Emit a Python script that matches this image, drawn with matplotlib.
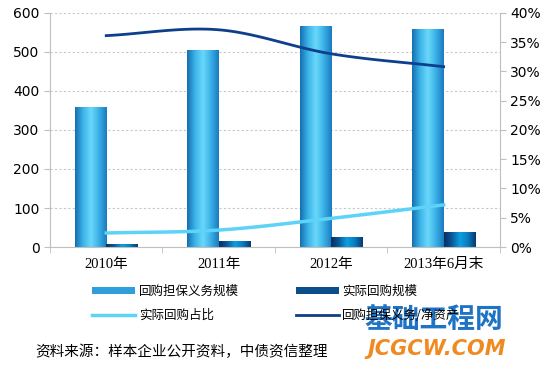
import numpy as np
import matplotlib
matplotlib.use("Agg")
import matplotlib.pyplot as plt
from matplotlib.patches import Patch
from matplotlib.lines import Line2D
from matplotlib.colors import LinearSegmentedColormap

plt.rcParams['font.family'] = ['DejaVu Sans', 'Noto Sans CJK SC']

categories = ['2010年', '2011年', '2012年', '2013年6月末']
guarantee_scale = [358, 506, 566, 558]        # 回购担保义务规模
actual_scale = [7, 15, 25, 39]                # 实际回购规模
actual_ratio = [2.4, 2.9, 4.9, 7.2]           # 实际回购占比 (%)
guarantee_ratio = [36.1, 37.1, 33.0, 30.8]    # 回购担保义务/净资产 (%)
legend_labels = ['回购担保义务规模', '实际回购规模', '实际回购占比', '回购担保义务/净资产']
source_text = '资料来源：样本企业公开资料，中债资信整理'

cmap_big = LinearSegmentedColormap.from_list('big', ['#1670b0', '#3cb4ea', '#6ad8fa', '#3ab0e6', '#1a7cc0'])
cmap_small = LinearSegmentedColormap.from_list('small', ['#062f5e', '#0a5a9a', '#0aa0e0', '#0a7cc0', '#063a70'])

def smooth(xs, ys, n=40, t=0.5):
    xs = np.asarray(xs, float); ys = np.asarray(ys, float)
    px = np.concatenate([[2*xs[0]-xs[1]], xs, [2*xs[-1]-xs[-2]]])
    py = np.concatenate([[2*ys[0]-ys[1]], ys, [2*ys[-1]-ys[-2]]])
    ox, oy = [], []
    for i in range(1, len(px)-2):
        p0, p1, p2, p3 = [np.array([px[j], py[j]]) for j in (i-1, i, i+1, i+2)]
        m1 = t*(p2-p0); m2 = t*(p3-p1)
        s = np.linspace(0, 1, n)
        h00 = 2*s**3-3*s**2+1; h10 = s**3-2*s**2+s; h01 = -2*s**3+3*s**2; h11 = s**3-s**2
        pts = np.outer(h00, p1)+np.outer(h10, m1)+np.outer(h01, p2)+np.outer(h11, m2)
        ox.extend(pts[:, 0]); oy.extend(pts[:, 1])
    return np.array(ox), np.array(oy)

fig = plt.figure(figsize=(5.5, 3.66), dpi=100)
ax = fig.add_axes([0.0909, 0.325, 0.818, 0.64])
x = np.arange(len(categories))
w = 0.28

grad = np.linspace(0, 1, 64).reshape(1, -1)
bars1 = ax.bar(x - w/2, guarantee_scale, width=w, color='none', zorder=2)
bars2 = ax.bar(x + w/2, actual_scale, width=w, color='none', zorder=2)
for bars, cm in ((bars1, cmap_big), (bars2, cmap_small)):
    for b in bars:
        x0, y0 = b.get_x(), b.get_y()
        im = ax.imshow(grad, cmap=cm, aspect='auto', extent=[x0, x0 + b.get_width(), y0, y0 + b.get_height()], zorder=2)
        im.set_clip_path(b)

ax.set_xlim(-0.5, len(categories) - 0.5)
ax.set_ylim(0, 600)
ax.set_yticks(range(0, 601, 100))
ax.set_xticks(x)
ax.set_xticklabels(categories, family=['Liberation Serif', 'Noto Sans CJK SC'], fontsize=10.5)
ax.set_xticks(np.arange(-0.5, len(categories), 1), minor=True)
ax.tick_params(axis='x', which='major', length=0, pad=8)
ax.tick_params(axis='x', which='minor', length=4, color='#bfbfbf')
ax.tick_params(axis='y', length=4, color='#bfbfbf', labelsize=10)
ax.yaxis.grid(True, linestyle=(0, (2, 2)), color='#c8c8c8', linewidth=0.8)
ax.set_axisbelow(True)
for s in ('top', 'right'):
    ax.spines[s].set_visible(False)
for s in ('left', 'bottom'):
    ax.spines[s].set_color('#bfbfbf')

ax2 = ax.twinx()
ax2.set_ylim(0, 40)
ax2.set_yticks(range(0, 41, 5))
ax2.set_yticklabels([f'{v}%' for v in range(0, 41, 5)])
ax2.tick_params(axis='y', length=4, color='#bfbfbf', labelsize=10)
for s in ('top', 'left', 'bottom'):
    ax2.spines[s].set_visible(False)
ax2.spines['right'].set_color('#bfbfbf')

sx, sy = smooth(x, actual_ratio)
ax2.plot(sx, sy, color='#5dd3f8', linewidth=2.5, zorder=3)
sx, sy = smooth(x, guarantee_ratio)
ax2.plot(sx, sy, color='#0d3f8c', linewidth=2.0, zorder=3)

handles = [Patch(facecolor='#2f9fdc', edgecolor='none'),
           Patch(facecolor='#0a4f8c', edgecolor='none'),
           Line2D([], [], color='#5dd3f8', linewidth=2.5),
           Line2D([], [], color='#0d3f8c', linewidth=2.0)]
order = [0, 2, 1, 3]
fig.legend([handles[i] for i in order], [legend_labels[i] for i in order],
           loc='upper left', bbox_to_anchor=(0.168, 0.222),
           bbox_transform=fig.transFigure, ncol=2, frameon=False,
           prop={'family': ['Noto Sans CJK SC'], 'size': 9},
           handlelength=3.4, handleheight=0.5, handletextpad=0.3,
           columnspacing=4.6, labelspacing=0.9, borderpad=0, borderaxespad=0)

fig.text(0.064, 0.02, source_text, family=['Noto Sans CJK SC'], fontsize=10.5, ha='left', va='bottom')

# watermark
fig.text(0.662, 0.088, '基础工程网', family=['Noto Sans CJK SC'], fontsize=20, fontweight='black',
         color='#1f73c4', ha='left', va='bottom')
fig.text(0.668, 0.02, 'JCGCW.COM', family=['DejaVu Sans'], fontsize=15, fontweight='bold',
         style='italic', color='#f08a20', ha='left', va='bottom')

fig.savefig('out.png', dpi=100)
